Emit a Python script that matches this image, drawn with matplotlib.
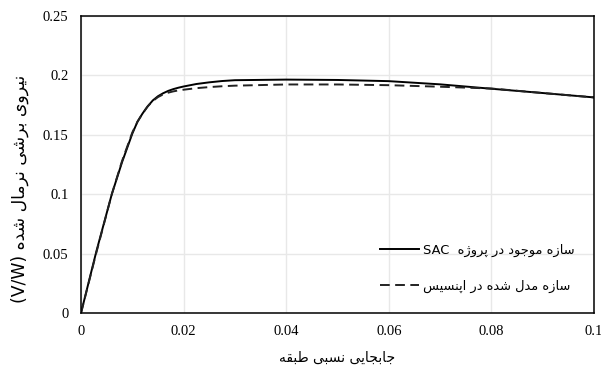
import matplotlib
matplotlib.use("Agg")
import matplotlib.pyplot as plt

# ---- data ----
drift = [0, 0.003, 0.006, 0.008, 0.009, 0.010, 0.011, 0.012, 0.013, 0.014,
         0.015, 0.016, 0.017, 0.018, 0.019, 0.020, 0.0225, 0.025, 0.0275, 0.030,
         0.040, 0.050, 0.060, 0.070, 0.080, 0.090, 0.100]
shear_sac = [0, 0.052, 0.100, 0.127, 0.139, 0.151, 0.161, 0.168, 0.174, 0.179,
             0.1825, 0.185, 0.187, 0.1885, 0.1897, 0.1907, 0.1928, 0.1942, 0.1953, 0.1960,
             0.1965, 0.1962, 0.1952, 0.1925, 0.1888, 0.1852, 0.1815]
shear_opensees = [0, 0.051, 0.100, 0.128, 0.140, 0.152, 0.161, 0.168, 0.174, 0.1785,
                  0.1818, 0.1840, 0.1855, 0.1866, 0.1874, 0.1880, 0.1893, 0.1902, 0.1909, 0.1914,
                  0.1924, 0.1924, 0.1918, 0.1905, 0.1890, 0.1852, 0.1815]

x_ticks = [0, 0.02, 0.04, 0.06, 0.08, 0.1]
x_tick_labels = ["0", "0.02", "0.04", "0.06", "0.08", "0.1"]
y_ticks = [0, 0.05, 0.1, 0.15, 0.2, 0.25]
y_tick_labels = ["0", "0.05", "0.1", "0.15", "0.2", "0.25"]

XLABEL = "جابجایی نسبی طبقه"
YLABEL = "نیروی برشی نرمال شده"
LEG_SAC = "سازه موجود در پروژه"
LEG_OPS = "سازه مدل شده در اپنسیس"


# ---- minimal Persian shaping (matplotlib has no bidi / shaping) ----
# letter: (isolated, final, initial, medial); None = letter does not join forward
FORMS = {
    "ا": ("\uFE8D", "\uFE8E", None, None),
    "ب": ("\uFE8F", "\uFE90", "\uFE91", "\uFE92"),
    "پ": ("\uFB56", "\uFB57", "\uFB58", "\uFB59"),
    "ج": ("\uFE9D", "\uFE9E", "\uFE9F", "\uFEA0"),
    "د": ("\uFEA9", "\uFEAA", None, None),
    "ر": ("\uFEAD", "\uFEAE", None, None),
    "ز": ("\uFEAF", "\uFEB0", None, None),
    "ژ": ("\uFB8A", "\uFB8B", None, None),
    "س": ("\uFEB1", "\uFEB2", "\uFEB3", "\uFEB4"),
    "ش": ("\uFEB5", "\uFEB6", "\uFEB7", "\uFEB8"),
    "ط": ("\uFEC1", "\uFEC2", "\uFEC3", "\uFEC4"),
    "ق": ("\uFED5", "\uFED6", "\uFED7", "\uFED8"),
    "ل": ("\uFEDD", "\uFEDE", "\uFEDF", "\uFEE0"),
    "م": ("\uFEE1", "\uFEE2", "\uFEE3", "\uFEE4"),
    "ن": ("\uFEE5", "\uFEE6", "\uFEE7", "\uFEE8"),
    "ه": ("\uFEE9", "\uFEEA", "\uFEEB", "\uFEEC"),
    "و": ("\uFEED", "\uFEEE", None, None),
    "ی": ("\uFBFC", "\uFBFD", "\uFBFE", "\uFBFF"),
}


def rtl(text):
    """Shape Persian letters and return them in visual (left-to-right) order."""
    out = []
    for i, ch in enumerate(text):
        if ch not in FORMS:
            out.append(ch)
            continue
        prev = text[i - 1] if i > 0 else ""
        nxt = text[i + 1] if i + 1 < len(text) else ""
        join_prev = prev in FORMS and FORMS[prev][2] is not None
        join_next = FORMS[ch][2] is not None and nxt in FORMS
        iso, fin, ini, med = FORMS[ch]
        if join_prev and join_next:
            out.append(med)
        elif join_prev:
            out.append(fin)
        elif join_next:
            out.append(ini)
        else:
            out.append(iso)
    return "".join(out)[::-1]


PERSIAN_FONT = ["DejaVu Sans"]
TICK_FONT = "Liberation Serif"

fig = plt.figure(figsize=(6.01, 3.65), dpi=100)
ax = fig.add_axes([0.1348, 0.1425, 0.8536, 0.8135])

ax.plot(drift, shear_sac, color="black", lw=1.4, label="SAC  " + rtl(LEG_SAC))
ax.plot(drift, shear_opensees, color="#222222", lw=1.4, dashes=(5, 2.8),
        label=rtl(LEG_OPS))

ax.set_xlim(0, 0.1)
ax.set_ylim(0, 0.25)
ax.set_xticks(x_ticks)
ax.set_xticklabels(x_tick_labels, fontfamily=TICK_FONT, fontsize=10.5)
ax.set_yticks(y_ticks)
ax.set_yticklabels(y_tick_labels, fontfamily=TICK_FONT, fontsize=10.5)
ax.tick_params(length=0, pad=9)
ax.grid(True, color="#e8e8e8", lw=1)
ax.set_axisbelow(True)
for sp in ax.spines.values():
    sp.set_color("black")
    sp.set_linewidth(1.1)

ax.set_xlabel(rtl(XLABEL), family=PERSIAN_FONT, fontsize=10, labelpad=9)
ax.set_ylabel("(V/W) " + rtl(YLABEL), family=PERSIAN_FONT, fontsize=12.4)
ax.yaxis.set_label_coords(-0.102, 0.418)

leg = ax.legend(loc="center left", bbox_to_anchor=(0.559, 0.15), frameon=False,
                prop={"family": PERSIAN_FONT, "size": 9.4}, handlelength=3.0,
                labelspacing=1.75, handletextpad=0.3)

fig.savefig("out.png", dpi=100)
